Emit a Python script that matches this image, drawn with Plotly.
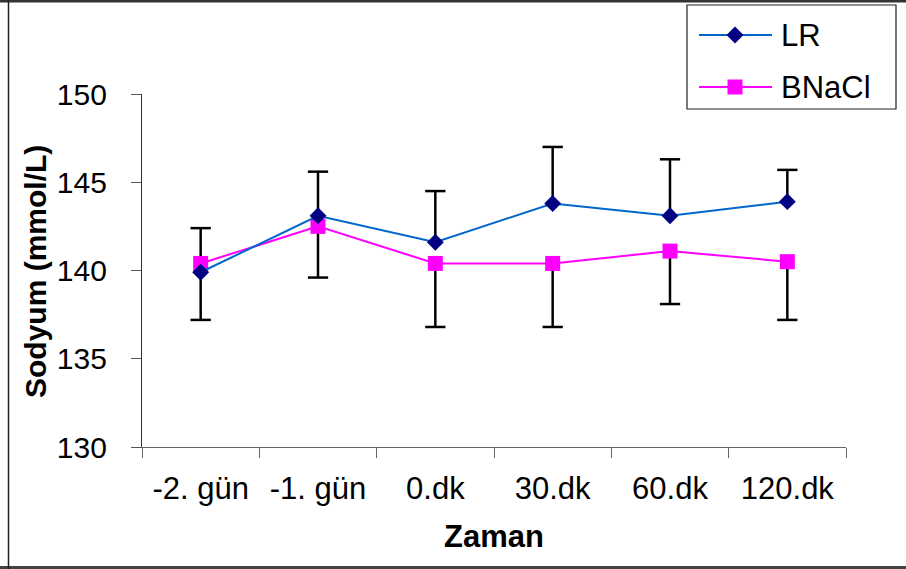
import plotly.graph_objects as go

# Sampling times
categories = ["-2. gün", "-1. gün", "0.dk", "30.dk", "60.dk", "120.dk"]

# Serum sodium (mmol/L), mean and SD per group
lr_mean = [139.9, 143.1, 141.6, 143.8, 143.1, 143.9]
lr_sd = [2.5, 2.5, 2.9, 3.2, 3.2, 1.8]
bnacl_mean = [140.4, 142.5, 140.4, 140.4, 141.1, 140.5]
bnacl_sd = [3.2, 2.9, 3.6, 3.6, 3.0, 3.3]

y_ticks = [130, 135, 140, 145, 150]

W, H = 906, 569
ML, MR, MT, MB = 142, 60, 94, 122
PW, PH = W - ML - MR, H - MT - MB

FONT = "Liberation Sans, Arial, sans-serif"
LR_LINE = "#0066CC"
LR_MARK = "#000080"
BN_COL = "#FF00FF"


def px(x):
    return (x - ML) / PW


def py(y):
    return (H - MB - y) / PH


def error_stems(means, sds, sign):
    xs, ys, cx, cy = [], [], [], []
    for c, m, s in zip(categories, means, sds):
        end = m + sign * s
        xs += [c, c, None]
        ys += [m, end, None]
        cx.append(c)
        cy.append(end)
    return xs, ys, cx, cy


fig = go.Figure()

# Error bars: upper for LR, lower for BNaCl
for means, sds, sign in [(lr_mean, lr_sd, 1), (bnacl_mean, bnacl_sd, -1)]:
    xs, ys, cx, cy = error_stems(means, sds, sign)
    fig.add_trace(go.Scatter(x=xs, y=ys, mode="lines",
                             line=dict(color="black", width=2.5),
                             showlegend=False, hoverinfo="skip"))
    fig.add_trace(go.Scatter(x=cx, y=cy, mode="markers",
                             marker=dict(symbol="line-ew", size=14.5,
                                         line=dict(color="black", width=2.5)),
                             showlegend=False, hoverinfo="skip"))

fig.add_trace(go.Scatter(x=categories, y=bnacl_mean, mode="lines+markers", name="BNaCl",
                         line=dict(color=BN_COL, width=2),
                         marker=dict(symbol="square", size=15, color=BN_COL),
                         showlegend=False))
fig.add_trace(go.Scatter(x=categories, y=lr_mean, mode="lines+markers", name="LR",
                         line=dict(color=LR_LINE, width=2),
                         marker=dict(symbol="diamond", size=13, color=LR_MARK),
                         showlegend=False))

shapes = []
annotations = []

# Outer frame
shapes.append(dict(type="line", xref="paper", yref="paper",
                   x0=px(0), x1=px(W), y0=py(1), y1=py(1),
                   line=dict(color="#333333", width=3)))
shapes.append(dict(type="line", xref="paper", yref="paper",
                   x0=px(0), x1=px(W), y0=py(567.5), y1=py(567.5),
                   line=dict(color="#444444", width=3)))
shapes.append(dict(type="line", xref="paper", yref="paper",
                   x0=px(8.5), x1=px(8.5), y0=py(0), y1=py(H),
                   line=dict(color="#222222", width=1.5)))

# Legend box
shapes.append(dict(type="rect", xref="paper", yref="paper",
                   x0=px(687), x1=px(896), y0=py(5), y1=py(109),
                   line=dict(color="#222222", width=1.2), fillcolor="white"))

legend_items = [("LR", LR_LINE, LR_MARK, "diamond", 35),
                ("BNaCl", BN_COL, BN_COL, "square", 87)]
for label, lc, mc, sym, yy in legend_items:
    shapes.append(dict(type="line", xref="paper", yref="paper",
                       x0=px(699), x1=px(772), y0=py(yy), y1=py(yy),
                       line=dict(color=lc, width=2)))
    cx = 735
    if sym == "diamond":
        d = 8.5
        path = (f"M {px(cx)} {py(yy - d)} L {px(cx + d)} {py(yy)} "
                f"L {px(cx)} {py(yy + d)} L {px(cx - d)} {py(yy)} Z")
        shapes.append(dict(type="path", xref="paper", yref="paper", path=path,
                           fillcolor=mc, line=dict(color=mc, width=0)))
    else:
        d = 7.5
        shapes.append(dict(type="rect", xref="paper", yref="paper",
                           x0=px(cx - d), x1=px(cx + d), y0=py(yy - d), y1=py(yy + d),
                           fillcolor=mc, line=dict(color=mc, width=0)))
    annotations.append(dict(text=label, xref="paper", yref="paper",
                            x=px(779), y=py(yy), xanchor="left", yanchor="middle",
                            showarrow=False,
                            font=dict(family=FONT, size=31, color="black")))

# Axis titles
annotations.append(dict(text="<b>Zaman</b>", xref="paper", yref="paper",
                        x=px(494), y=py(536), xanchor="center", yanchor="middle",
                        showarrow=False,
                        font=dict(family=FONT, size=31, color="black")))
annotations.append(dict(text="<b>Sodyum (mmol/L)</b>", xref="paper", yref="paper",
                        x=px(35), y=py(272), xanchor="center", yanchor="middle",
                        textangle=-90, showarrow=False,
                        font=dict(family=FONT, size=30, color="black")))

fig.update_layout(
    width=W, height=H,
    margin=dict(l=ML, r=MR, t=MT, b=MB, pad=0),
    paper_bgcolor="white", plot_bgcolor="white",
    showlegend=False,
    shapes=shapes, annotations=annotations,
    font=dict(family=FONT, color="black"),
)

fig.update_xaxes(
    type="category", categoryorder="array", categoryarray=categories,
    range=[-0.5, len(categories) - 0.5],
    showline=True, linecolor="#666666", linewidth=1.2,
    ticks="outside", ticklen=10, tickcolor="#666666", tickwidth=1.2,
    tickson="boundaries", showgrid=False, zeroline=False,
    tickfont=dict(family=FONT, size=31, color="black"),
    ticklabelstandoff=14,
)
fig.update_yaxes(
    range=[130, 150], tickvals=y_ticks, ticktext=[str(v) for v in y_ticks],
    showline=True, linecolor="#333333", linewidth=1.2,
    ticks="outside", ticklen=10, tickcolor="#555555", tickwidth=1.2,
    showgrid=False, zeroline=False,
    tickfont=dict(family=FONT, size=30, color="black"),
    ticklabelstandoff=18,
)

fig.write_html("out.html")
